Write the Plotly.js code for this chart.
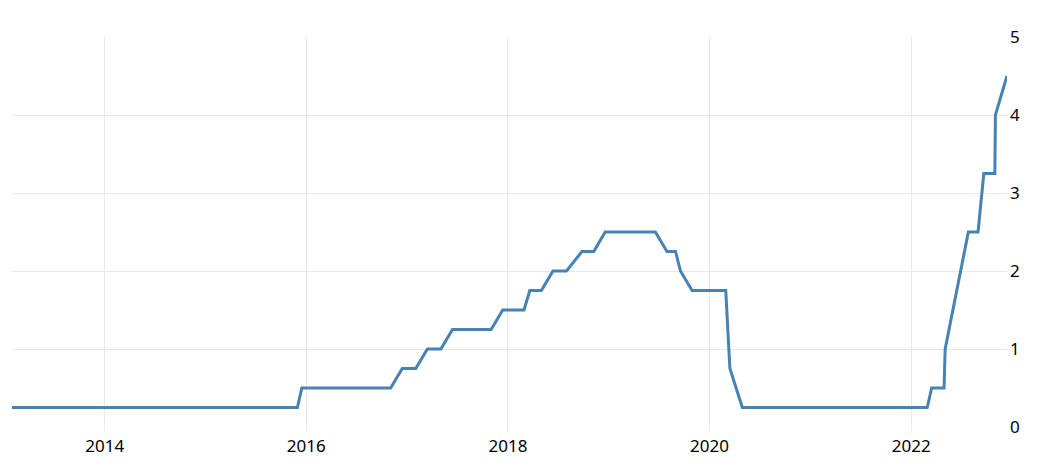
<!DOCTYPE html>
<html>
<head>
<meta charset="utf-8">
<script src="https://cdn.plot.ly/plotly-3.0.1.min.js"></script>
<style>
html,body{margin:0;padding:0;background:#fff;}
#chart{width:1054px;height:466px;}
</style>
</head>
<body>
<div id="chart"></div>
<script>
// Monthly observations (FOMC decision date in the month, else month end)
const dates = [
  "2013-01-30","2013-02-28","2013-03-20","2013-04-30","2013-05-01","2013-06-19","2013-07-31","2013-08-31","2013-09-18","2013-10-30","2013-11-30","2013-12-18",
  "2014-01-29","2014-02-28","2014-03-19","2014-04-30","2014-05-31","2014-06-18","2014-07-30","2014-08-31","2014-09-17","2014-10-29","2014-11-30","2014-12-17",
  "2015-01-28","2015-02-28","2015-03-18","2015-04-29","2015-05-31","2015-06-17","2015-07-29","2015-08-31","2015-09-17","2015-10-28","2015-11-30","2015-12-16",
  "2016-01-27","2016-02-29","2016-03-16","2016-04-27","2016-05-31","2016-06-15","2016-07-27","2016-08-31","2016-09-21","2016-10-31","2016-11-02","2016-12-14",
  "2017-01-31","2017-02-01","2017-03-15","2017-04-30","2017-05-03","2017-06-14","2017-07-26","2017-08-31","2017-09-20","2017-10-31","2017-11-01","2017-12-13",
  "2018-01-31","2018-02-28","2018-03-21","2018-04-30","2018-05-02","2018-06-13","2018-07-31","2018-08-01","2018-09-26","2018-10-31","2018-11-08","2018-12-19",
  "2019-01-30","2019-02-28","2019-03-20","2019-04-30","2019-05-01","2019-06-19","2019-07-31","2019-08-31","2019-09-18","2019-10-30","2019-11-30","2019-12-11",
  "2020-01-29","2020-02-29","2020-03-15","2020-04-29","2020-05-31","2020-06-10","2020-07-29","2020-08-31","2020-09-16","2020-10-31","2020-11-05","2020-12-16",
  "2021-01-27","2021-02-28","2021-03-17","2021-04-28","2021-05-31","2021-06-16","2021-07-28","2021-08-31","2021-09-22","2021-10-31","2021-11-03","2021-12-15",
  "2022-01-26","2022-02-28","2022-03-16","2022-04-30","2022-05-04","2022-06-15","2022-07-27","2022-08-31","2022-09-21","2022-10-31","2022-11-02","2022-12-14"
];
const rates = [
  0.25,0.25,0.25,0.25,0.25,0.25,0.25,0.25,0.25,0.25,0.25,0.25,
  0.25,0.25,0.25,0.25,0.25,0.25,0.25,0.25,0.25,0.25,0.25,0.25,
  0.25,0.25,0.25,0.25,0.25,0.25,0.25,0.25,0.25,0.25,0.25,0.50,
  0.50,0.50,0.50,0.50,0.50,0.50,0.50,0.50,0.50,0.50,0.50,0.75,
  0.75,0.75,1.00,1.00,1.00,1.25,1.25,1.25,1.25,1.25,1.25,1.50,
  1.50,1.50,1.75,1.75,1.75,2.00,2.00,2.00,2.25,2.25,2.25,2.50,
  2.50,2.50,2.50,2.50,2.50,2.50,2.25,2.25,2.00,1.75,1.75,1.75,
  1.75,1.75,0.75,0.25,0.25,0.25,0.25,0.25,0.25,0.25,0.25,0.25,
  0.25,0.25,0.25,0.25,0.25,0.25,0.25,0.25,0.25,0.25,0.25,0.25,
  0.25,0.25,0.50,0.50,1.00,1.75,2.50,2.50,3.25,3.25,4.00,4.50
];
const yTicks = [0, 1, 2, 3, 4, 5];
const xTickVals = ["2014-01-01","2016-01-01","2018-01-01","2020-01-01","2022-01-01"];
const xTickText = ["2014","2016","2018","2020","2022"];

const trace = {
  x: dates, y: rates, type: "scatter", mode: "lines",
  line: {color: "#4682b4", width: 3},
  hoverinfo: "x+y"
};
const layout = {
  width: 1054, height: 466,
  margin: {l: 12, r: 47, t: 37, b: 39, pad: 0},
  paper_bgcolor: "#ffffff", plot_bgcolor: "#ffffff",
  showlegend: false,
  font: {family: "Noto Sans, Open Sans, sans-serif", size: 17, color: "#000"},
  xaxis: {
    type: "date",
    range: [dates[0], dates[dates.length - 1]],
    tickvals: xTickVals, ticktext: xTickText,
    showgrid: true, gridcolor: "#e8e8e8", gridwidth: 1,
    zeroline: false, showline: false,
    ticks: "outside", ticklen: 4, tickcolor: "#e8e8e8", tickwidth: 1,
    tickfont: {size: 17, color: "#000"}
  },
  yaxis: {
    side: "right",
    range: [0, 5],
    tickvals: yTicks,
    showgrid: true, gridcolor: "#e8e8e8", gridwidth: 1,
    zeroline: false, showline: false,
    ticks: "", ticklabelstandoff: 2,
    tickfont: {size: 17, color: "#000"}
  }
};
Plotly.newPlot("chart", [trace], layout, {displayModeBar: false, staticPlot: true});
</script>
</body>
</html>
